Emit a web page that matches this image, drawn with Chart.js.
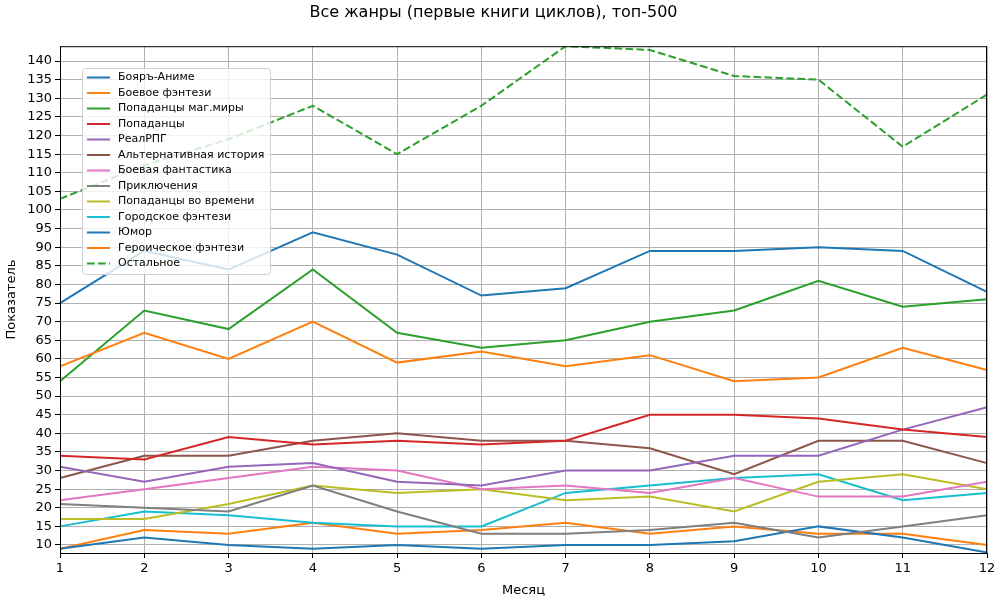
<!DOCTYPE html>
<html>
<head>
<meta charset="utf-8">
<script src="https://cdn.jsdelivr.net/npm/chart.js@4"></script>
<style>
  html, body { margin: 0; padding: 0; background: #fff; }
  #wrap { width: 1000px; height: 600px; }
</style>
</head>
<body>
<div id="wrap"><canvas id="chart" width="1000" height="600"></canvas></div>
<script>
const months = ['1', '2', '3', '4', '5', '6', '7', '8', '9', '10', '11', '12'];
const yTicks = [10, 15, 20, 25, 30, 35, 40, 45, 50, 55, 60, 65, 70, 75, 80, 85, 90, 95, 100, 105, 110, 115, 120, 125, 130, 135, 140];

const boyar      = [75, 89, 84, 94, 88, 77, 79, 89, 89, 90, 89, 78];
const boevoeFen  = [58, 67, 60, 70, 59, 62, 58, 61, 54, 55, 63, 57];
const popMag     = [54, 73, 68, 84, 67, 63, 65, 70, 73, 81, 74, 76];
const popadantsy = [34, 33, 39, 37, 38, 37, 38, 45, 45, 44, 41, 39];
const realRpg    = [31, 27, 31, 32, 27, 26, 30, 30, 34, 34, 41, 47];
const altHist    = [28, 34, 34, 38, 40, 38, 38, 36, 29, 38, 38, 32];
const boevFant   = [22, 25, 28, 31, 30, 25, 26, 24, 28, 23, 23, 27];
const adventures = [21, 20, 19, 26, 19, 13, 13, 14, 16, 12, 15, 18];
const popTime    = [17, 17, 21, 26, 24, 25, 22, 23, 19, 27, 29, 25];
const cityFen    = [15, 19, 18, 16, 15, 15, 24, 26, 28, 29, 22, 24];
const humor      = [9, 12, 10, 9, 10, 9, 10, 10, 11, 15, 12, 8];
const heroFen    = [9, 14, 13, 16, 13, 14, 16, 13, 15, 13, 13, 10];
const other      = [103, 112, 119, 128, 115, 128, 144, 143, 136, 135, 117, 131];

const series = [
  ['Бояръ-Аниме', boyar, '#1f77b4'],
  ['Боевое фэнтези', boevoeFen, '#ff7f0e'],
  ['Попаданцы маг.миры', popMag, '#2ca02c'],
  ['Попаданцы', popadantsy, '#d62728'],
  ['РеалРПГ', realRpg, '#9467bd'],
  ['Альтернативная история', altHist, '#8c564b'],
  ['Боевая фантастика', boevFant, '#e377c2'],
  ['Приключения', adventures, '#7f7f7f'],
  ['Попаданцы во времени', popTime, '#bcbd22'],
  ['Городское фэнтези', cityFen, '#17becf'],
  ['Юмор', humor, '#1f77b4'],
  ['Героическое фэнтези', heroFen, '#ff7f0e'],
  ['Остальное', other, '#2ca02c', [7.7, 3.3]]
];

const FONT = "'DejaVu Sans', sans-serif";

// top/right spines + legend box inside the plot, like matplotlib
const frameAndLegend = {
  id: 'frameAndLegend',
  afterDraw(chart) {
    const { ctx, chartArea: a } = chart;
    ctx.save();
    ctx.strokeStyle = '#000';
    ctx.lineWidth = 1;
    ctx.strokeRect(a.left + 0.5, a.top + 0.5, a.right - a.left - 1, a.bottom - a.top);

    const x0 = 82, y0 = 68, w = 188, h = 206;
    ctx.beginPath();
    ctx.roundRect(x0 + 0.5, y0 + 0.5, w, h, 3);
    ctx.fillStyle = 'rgba(255,255,255,0.8)';
    ctx.fill();
    ctx.strokeStyle = '#d0d0d0';
    ctx.stroke();

    ctx.font = '11px ' + FONT;
    ctx.textBaseline = 'middle';
    chart.data.datasets.forEach((ds, i) => {
      const y = 77.5 + i * 15.5;
      ctx.beginPath();
      ctx.setLineDash(ds.borderDash || []);
      ctx.strokeStyle = ds.borderColor;
      ctx.lineWidth = 2;
      ctx.moveTo(87, y);
      ctx.lineTo(110, y);
      ctx.stroke();
      ctx.setLineDash([]);
      ctx.fillStyle = '#000';
      ctx.fillText(ds.label, 118, y);
    });
    ctx.restore();
  }
};

new Chart(document.getElementById('chart'), {
  type: 'line',
  data: {
    labels: months,
    datasets: series.map(([label, values, color, dash]) => ({
      label, data: values, borderColor: color, backgroundColor: color,
      borderWidth: 2, borderDash: dash || [], pointRadius: 0, tension: 0, fill: false
    }))
  },
  options: {
    responsive: false,
    animation: false,
    layout: { padding: { left: 0, right: 13, top: 0, bottom: 0 } },
    plugins: {
      legend: { display: false },
      tooltip: { enabled: false },
      title: {
        display: true,
        text: 'Все жанры (первые книги циклов), топ-500',
        color: '#000',
        font: { family: FONT, size: 16, weight: 'normal' },
        padding: { top: 3, bottom: 24 }
      }
    },
    scales: {
      x: {
        offset: false,
        afterFit: s => { s.height = 47; },
        grid: { color: '#b0b0b0', lineWidth: 1, tickColor: '#000', tickLength: 5 },
        border: { display: true, color: '#000', width: 1 },
        ticks: { color: '#000', font: { family: FONT, size: 13 }, padding: 3, maxRotation: 0 },
        title: { display: true, text: 'Месяц', color: '#000', font: { family: FONT, size: 13 }, padding: { top: 2, bottom: 2 } }
      },
      y: {
        min: 7.85,
        max: 144,
        afterFit: s => { s.width = 60; },
        afterBuildTicks: s => { s.ticks = yTicks.map(v => ({ value: v })); },
        grid: { color: '#b0b0b0', lineWidth: 1, tickColor: '#000', tickLength: 5 },
        border: { display: true, color: '#000', width: 1 },
        ticks: { color: '#000', font: { family: FONT, size: 13 }, padding: 3, autoSkip: false },
        title: { display: true, text: 'Показатель', color: '#000', font: { family: FONT, size: 13 }, padding: { top: 4, bottom: 2 } }
      }
    }
  },
  plugins: [frameAndLegend]
});
</script>
</body>
</html>
